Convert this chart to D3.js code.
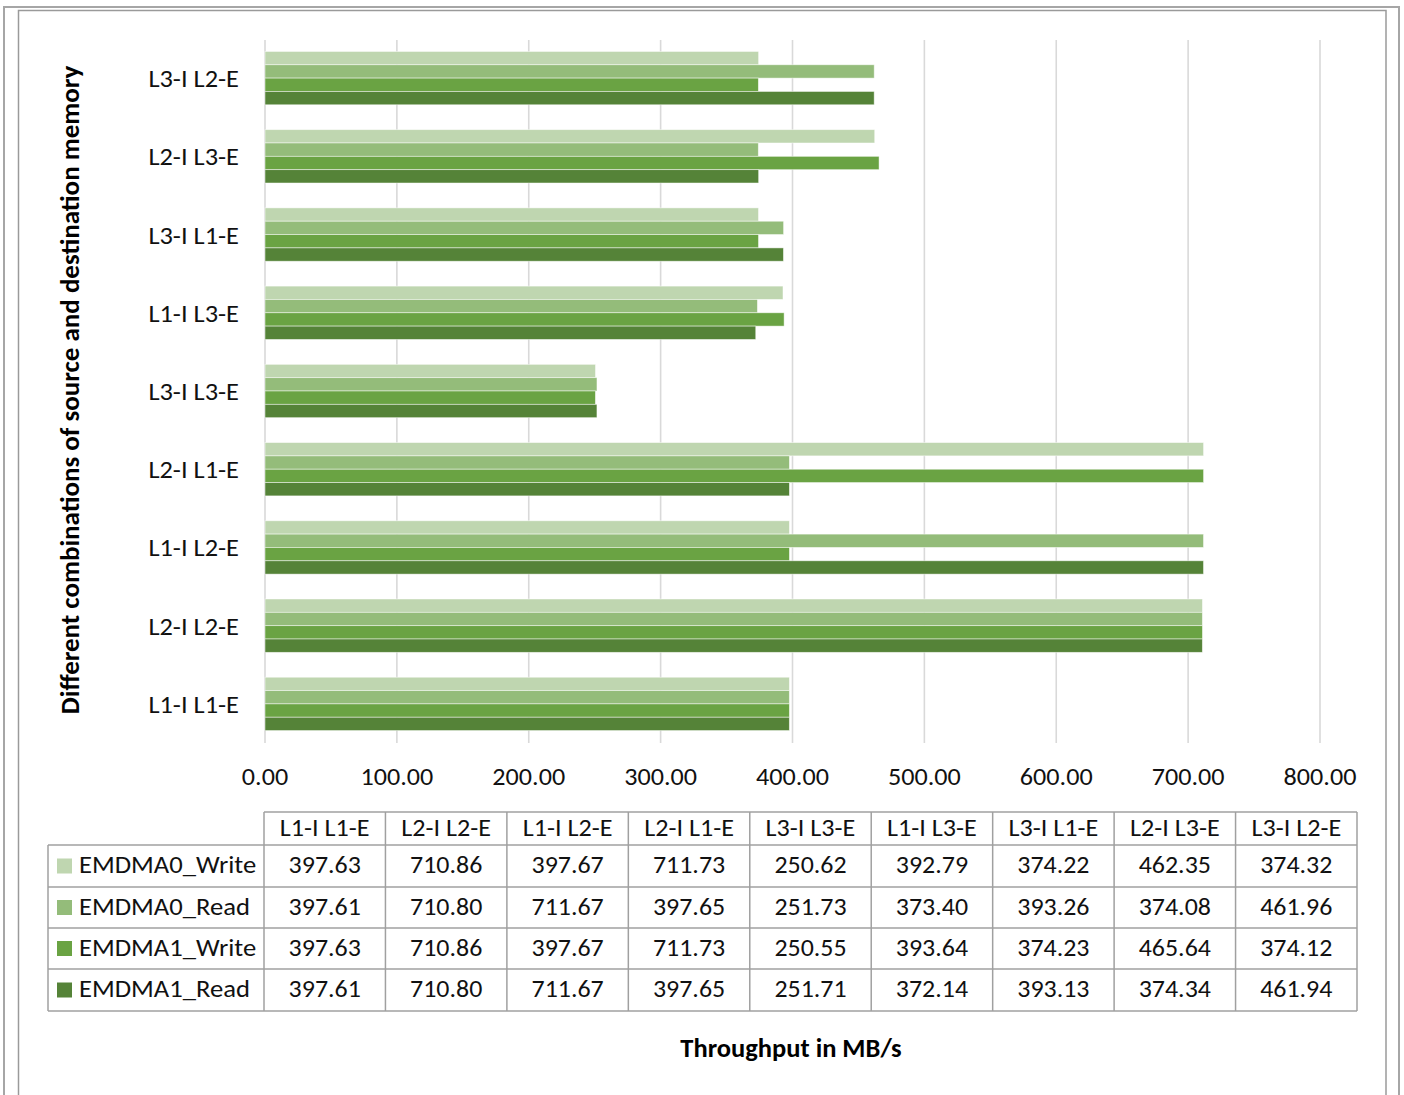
<!DOCTYPE html>
<html>
<head>
<meta charset="utf-8">
<script src="https://cdn.jsdelivr.net/npm/d3@7"></script>
<style>
  html, body { margin: 0; padding: 0; background: #fff; }
  svg { display: block; font-family: Carlito, "Open Sans", sans-serif; }
</style>
</head>
<body>
<svg id="chart" width="1404" height="1095"></svg>
<script>
// Memory combinations (source I / destination E), listed bottom to top
const categories = ["L1-I L1-E", "L2-I L2-E", "L1-I L2-E", "L2-I L1-E", "L3-I L3-E",
                    "L1-I L3-E", "L3-I L1-E", "L2-I L3-E", "L3-I L2-E"];
const seriesNames = ["EMDMA0_Write", "EMDMA0_Read", "EMDMA1_Write", "EMDMA1_Read"];
const emdma0Write = [397.63, 710.86, 397.67, 711.73, 250.62, 392.79, 374.22, 462.35, 374.32];
const emdma0Read  = [397.61, 710.80, 711.67, 397.65, 251.73, 373.40, 393.26, 374.08, 461.96];
const emdma1Write = [397.63, 710.86, 397.67, 711.73, 250.55, 393.64, 374.23, 465.64, 374.12];
const emdma1Read  = [397.61, 710.80, 711.67, 397.65, 251.71, 372.14, 393.13, 374.34, 461.94];
const xTicks = [0, 100, 200, 300, 400, 500, 600, 700, 800];

const seriesValues = [emdma0Write, emdma0Read, emdma1Write, emdma1Read];
const colors = ["#bfd6b0", "#94bc7a", "#6aa343", "#558338"];
const ink = "#111";

const svg = d3.select("#chart");

// Text helper: anchored at (x, y) baseline, with a slight horizontal widening
function label(parent, x, y, str, size, anchor, sx) {
  return parent.append("text")
    .attr("transform", `translate(${x},${y}) scale(${sx},1)`)
    .attr("text-anchor", anchor)
    .attr("font-size", size).attr("fill", ink)
    .text(str);
}

// Frames
svg.append("rect").attr("x", 4).attr("y", 7).attr("width", 1395).attr("height", 1200)
  .attr("fill", "none").attr("stroke", "#a6a6a6").attr("stroke-width", 2);
svg.append("rect").attr("x", 18.5).attr("y", 10.5).attr("width", 1367.5).attr("height", 1200)
  .attr("fill", "#fff").attr("stroke", "#9a9a9a").attr("stroke-width", 1.5);

// Scales
const x = d3.scaleLinear().domain([0, 800]).range([265, 1320]);
const y = d3.scaleBand().domain(categories.slice().reverse()).range([39, 743])
  .paddingInner(0.318).paddingOuter(0.159);
const ySub = d3.scaleBand().domain(seriesNames).range([0, y.bandwidth()]);

// Vertical gridlines
svg.append("g").selectAll("line").data(xTicks).join("line")
  .attr("x1", d => x(d)).attr("x2", d => x(d))
  .attr("y1", 40).attr("y2", 743)
  .attr("stroke", "#d9d9d9").attr("stroke-width", 1.6);

// Bars
const rows = categories.map((c, i) => ({ cat: c, vals: seriesNames.map((s, k) => ({ s, k, v: seriesValues[k][i] })) }));
const groups = svg.append("g").selectAll("g").data(rows).join("g")
  .attr("transform", d => `translate(0,${y(d.cat)})`);
groups.selectAll("rect").data(d => d.vals).join("rect")
  .attr("x", x(0))
  .attr("y", d => ySub(d.s))
  .attr("width", d => x(d.v) - x(0))
  .attr("height", ySub.bandwidth())
  .attr("fill", d => colors[d.k])
  .attr("stroke", "#ffffff").attr("stroke-opacity", 0.6).attr("stroke-width", 0.8);

// Category labels
const catG = svg.append("g");
categories.forEach(c => label(catG, 239, y(c) + y.bandwidth() / 2 + 9, c, 24, "end", 1.1));

// X tick labels
const fmt = d3.format(".2f");
const tickG = svg.append("g");
xTicks.forEach(t => label(tickG, x(t), 785, fmt(t), 24, "middle", 1.09));

// Y axis title
svg.append("text")
  .attr("transform", "translate(78.5,390) rotate(-90)")
  .attr("text-anchor", "middle")
  .attr("font-size", 27).attr("font-weight", "bold").attr("fill", "#000")
  .text("Different combinations of source and destination memory");

// Data table
const tLeft = 264, tRight = 1357, legLeft = 48;
const colW = (tRight - tLeft) / categories.length;
const rowTops = [812, 845, 887, 928, 969, 1011];
const gridColor = "#a0a0a0";
const table = svg.append("g");

// horizontal lines
rowTops.forEach((yy, i) => {
  table.append("line")
    .attr("x1", i === 0 ? tLeft : legLeft).attr("x2", tRight)
    .attr("y1", yy).attr("y2", yy)
    .attr("stroke", gridColor).attr("stroke-width", 1.5);
});
// vertical lines
table.append("line").attr("x1", legLeft).attr("x2", legLeft)
  .attr("y1", rowTops[1]).attr("y2", rowTops[5]).attr("stroke", gridColor).attr("stroke-width", 1.5);
d3.range(categories.length + 1).forEach(j => {
  const xx = tLeft + j * colW;
  table.append("line").attr("x1", xx).attr("x2", xx)
    .attr("y1", rowTops[0]).attr("y2", rowTops[5]).attr("stroke", gridColor).attr("stroke-width", 1.5);
});
// header
categories.forEach((c, j) =>
  label(table, tLeft + (j + 0.5) * colW, (rowTops[0] + rowTops[1]) / 2 + 7.5, c, 24, "middle", 1.09));
// series rows
seriesNames.forEach((s, k) => {
  const cy = (rowTops[k + 1] + rowTops[k + 2]) / 2;
  table.append("rect").attr("x", 57).attr("y", cy - 7.5).attr("width", 15).attr("height", 15)
    .attr("fill", colors[k]);
  label(table, 79, cy + 7.3, s, 25, "start", 1.065);
  seriesValues[k].forEach((v, j) =>
    label(table, tLeft + (j + 0.5) * colW, cy + 7.3, fmt(v), 24, "middle", 1.08));
});

// X axis title
svg.append("text").attr("x", 791).attr("y", 1057)
  .attr("text-anchor", "middle")
  .attr("font-size", 26.5).attr("font-weight", "bold").attr("fill", "#000")
  .text("Throughput in MB/s");
</script>
</body>
</html>
